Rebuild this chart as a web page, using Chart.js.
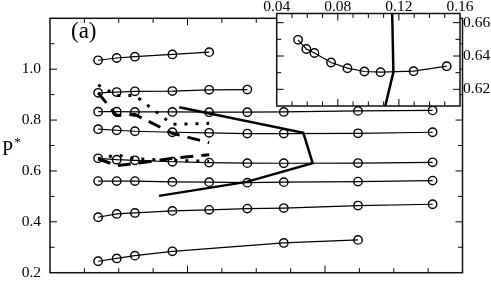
<!DOCTYPE html>
<html><head><meta charset="utf-8">
<script src="https://cdn.jsdelivr.net/npm/chart.js@4.4.1/dist/chart.umd.min.js"></script>
<style>
html,body{margin:0;padding:0;background:#fff;}
#wrap{position:relative;width:491px;height:300px;overflow:hidden;background:#fff;}
canvas{position:absolute;left:0;top:0;}
.lbl{position:absolute;font-family:"Liberation Serif","Times New Roman",serif;color:#000;white-space:nowrap;line-height:1;}
</style></head><body>
<div id="wrap">
<canvas id="main" width="491" height="300"></canvas>
<canvas id="inset" width="491" height="300"></canvas>
<div class="lbl" style="left:71px;top:19px;font-size:23px;">(a)</div>
<div class="lbl" style="left:2px;top:138px;font-size:20px;">P<span style="font-size:13px;position:relative;top:-9px;left:1px;">*</span></div>
</div>
<script>
// ---- data ----
const xCols = [0.0540, 0.0594, 0.0647, 0.0756, 0.0863, 0.0974, 0.1080, 0.1296, 0.1513];
const rowA = [1.035, 1.044, 1.049, 1.058, 1.067];
const rowB = [0.907, 0.910, 0.913, 0.914, 0.919, 0.920];
const rowC = [0.833, 0.833, 0.832, 0.832, 0.831, 0.831, 0.832, 0.836, 0.838];
const rowD = [0.764, 0.760, 0.756, 0.752, 0.750, 0.747, 0.747, 0.748, 0.752];
const rowE = [0.6497, 0.6442, 0.6418, 0.6361, 0.6327, 0.6307, 0.6303, 0.6309, 0.6339];
const rowF = [0.560, 0.560, 0.560, 0.557, 0.556, 0.554, 0.556, 0.558, 0.562];
const rowG = [0.418, 0.431, 0.435, 0.443, 0.447, 0.452, 0.454, 0.464, 0.469];
const rowH = [0.245, 0.256, 0.267, 0.284, null, null, 0.317, 0.329, null];
// thick solid boundary line
const boundX = [0.0776, 0.1137, 0.1164, 0.0972, 0.0717];
const boundY = [0.850, 0.750, 0.6303, 0.557, 0.502];
// dashed / dotted curves (at the first five columns)
const dashUpper = [0.907, 0.818, 0.822, 0.748, 0.711];
const dotUpper  = [0.938, 0.897, 0.897, 0.783, 0.787];
const dashLower = [0.648, 0.621, 0.629, 0.6495, 0.664];
const dotLower  = [0.648, 0.663, 0.648, 0.641, 0.638];
// tick labels
const mainYLabels = [0.2, 0.4, 0.6, 0.8, 1.0];
const insetXLabels = [0.04, 0.08, 0.12, 0.16];
const insetYLabels = [0.62, 0.64, 0.66];

const serif = '"Liberation Serif","Times New Roman",serif';
Chart.defaults.font.family = serif;
Chart.defaults.color = '#000';

function pts(xs, ys){ return ys.map((y,i)=>({x:xs[i], y:y})); }
function rowDs(ys){
  return {data: pts(xCols, ys), showLine:true, borderColor:'#000', borderWidth:1.2,
    pointRadius:4.2, pointHoverRadius:4.2, pointBorderWidth:1.4, pointBorderColor:'#000',
    pointBackgroundColor:'rgba(0,0,0,0)', spanGaps:true, tension:0};
}
function lineDs(xs, ys, w, dash){
  return {data: pts(xs, ys), showLine:true, borderColor:'#000', borderWidth:w,
    borderDash: dash || [], pointRadius:0, pointHoverRadius:0, tension:0, borderCapStyle:'butt'};
}

function frameTicks(id, xt, yt){
  return {id:id,
    beforeDraw(chart){
      if (id === 'insetFrame'){
        const a = chart.chartArea, c = chart.ctx;
        c.save(); c.fillStyle = '#fff'; c.fillRect(a.left, a.top, a.right-a.left, a.bottom-a.top); c.restore();
      }
    },
    afterDraw(chart){
      const {ctx, chartArea:a, scales} = chart;
      ctx.save();
      ctx.strokeStyle = '#000'; ctx.lineWidth = 1;
      xt.forEach(t => {
        const px = scales.x.getPixelForValue(t.v), L = t.major ? 7 : 4.5;
        ctx.beginPath();
        ctx.moveTo(px, a.bottom); ctx.lineTo(px, a.bottom - L);
        ctx.moveTo(px, a.top); ctx.lineTo(px, a.top + L);
        ctx.stroke();
      });
      yt.forEach(t => {
        const py = scales.y.getPixelForValue(t.v), L = t.major ? 7 : 4.5;
        ctx.beginPath();
        ctx.moveTo(a.left, py); ctx.lineTo(a.left + L, py);
        ctx.moveTo(a.right, py); ctx.lineTo(a.right - L, py);
        ctx.stroke();
      });
      ctx.lineWidth = 1.5; ctx.strokeStyle = '#111';
      ctx.strokeRect(a.left, a.top, a.right - a.left, a.bottom - a.top);
      ctx.restore();
    }};
}

const mainXT = [], mainYT = [], insXT = [], insYT = [];
for (let k = 1; k <= 11; k++) { mainXT.push({v: 0.04 + 0.01*k, major: k % 4 === 0}); insXT.push({v: 0.04 + 0.01*k, major: k % 4 === 0}); }
for (let k = 1; k <= 9; k++) mainYT.push({v: 0.2 + 0.1*k, major: k % 2 === 0});
for (let k = 1; k <= 5; k++) insYT.push({v: 0.61 + 0.01*k, major: k % 2 === 1});

const tickFont = {family: serif, size: 15.5};

new Chart(document.getElementById('main'), {
  type: 'scatter',
  data: {datasets: [
    rowDs(rowA), rowDs(rowB), rowDs(rowC), rowDs(rowD), rowDs(rowE), rowDs(rowF), rowDs(rowG), rowDs(rowH),
    lineDs(boundX, boundY, 2.5),
    lineDs(xCols, dashUpper, 3, [13, 8]),
    lineDs(xCols, dotUpper, 3, [3, 8]),
    lineDs(xCols, dashLower, 3, [13, 8]),
    lineDs(xCols, dotLower, 3, [3, 8])
  ]},
  options: {
    responsive:false, animation:false, devicePixelRatio:1,
    layout:{padding:{left:0, top:13.5, right:28.5, bottom:0}},
    plugins:{legend:{display:false}, tooltip:{enabled:false}},
    scales:{
      x:{type:'linear', min:0.04, max:0.16, grid:{display:false}, border:{display:false},
        ticks:{display:false}, afterFit:s=>{s.height = 27.3;}},
      y:{type:'linear', min:0.2, max:1.2, position:'left', grid:{display:false, drawTicks:false}, border:{display:false},
        ticks:{font:tickFont, color:'#000', padding:9, callback:v=>Number(v).toFixed(1)},
        afterBuildTicks:s=>{ s.ticks = mainYLabels.map(v=>({value:v})); },
        afterFit:s=>{s.width = 50;}}
    }
  },
  plugins:[frameTicks('mainFrame', mainXT, mainYT)]
});

new Chart(document.getElementById('inset'), {
  type: 'scatter',
  data: {datasets: [
    rowDs(rowE),
    lineDs(boundX, boundY, 2.5)
  ]},
  options: {
    responsive:false, animation:false, devicePixelRatio:1,
    layout:{padding:{left:276.7, top:0, right:0, bottom:194}},
    plugins:{legend:{display:false}, tooltip:{enabled:false}},
    scales:{
      x:{type:'linear', position:'top', min:0.04, max:0.16, grid:{display:false, drawTicks:false}, border:{display:false},
        ticks:{font:tickFont, color:'#000', padding:-3, maxRotation:0, autoSkip:false, callback:v=>Number(v).toFixed(2)},
        afterBuildTicks:s=>{ s.ticks = insetXLabels.map(v=>({value:v})); },
        afterFit:s=>{s.height = 13.5;}},
      y:{type:'linear', position:'right', min:0.61, max:0.6655, grid:{display:false, drawTicks:false}, border:{display:false},
        ticks:{font:tickFont, color:'#000', padding:3, callback:v=>Number(v).toFixed(2)},
        afterBuildTicks:s=>{ s.ticks = insetYLabels.map(v=>({value:v})); },
        afterFit:s=>{s.width = 31;}}
    }
  },
  plugins:[frameTicks('insetFrame', insXT, insYT)]
});
</script>
</body></html>
